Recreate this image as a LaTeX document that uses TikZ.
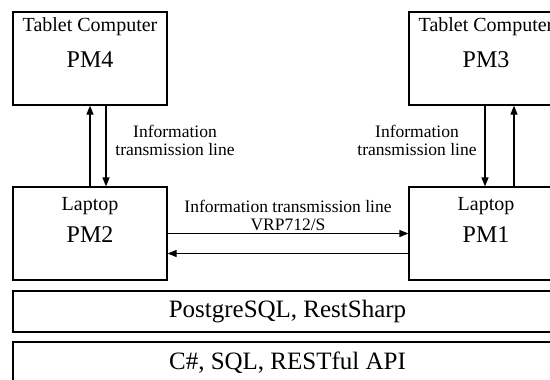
\documentclass[tikz,border=0pt]{standalone}
\usepackage{fontspec}
\setmainfont{Liberation Serif}
\usetikzlibrary{positioning,arrows.meta}

\begin{document}
\begin{tikzpicture}[x=1pt, y=-1pt,
    devbox/.style={draw, line width=1.2pt, minimum width=154pt, minimum height=93pt},
    layerbox/.style={draw, line width=1.2pt, minimum width=549pt, minimum height=41pt, font=\fontsize{25}{30}\selectfont},
    kind/.style={anchor=base, font=\fontsize{20}{24}\selectfont},
    pmname/.style={anchor=base, font=\fontsize{24}{28}\selectfont},
    lbl/.style={align=center, font=\fontsize{17.5}{18}\selectfont},
    arr/.style={-{Triangle[length=9pt, width=7pt]}, line width=1.2pt}
]
\path[use as bounding box] (0,0) rectangle (550,380);
\clip (0,0) rectangle (550,380);
% Devices
\node[devbox] (pm4) at (90,58.5) {};
\node[devbox] (pm3) at (486,58.5) {};
\node[devbox] (pm2) at (90,233.5) {};
\node[devbox] (pm1) at (486,233.5) {};
\node[kind] (pm4k) at ([yshift=-20pt]pm4.north) {Tablet Computer};
\node[pmname] (pm4n) at ([yshift=-56pt]pm4.north) {PM4};
\node[kind] (pm3k) at ([yshift=-20pt]pm3.north) {Tablet Computer};
\node[pmname] (pm3n) at ([yshift=-56pt]pm3.north) {PM3};
\node[kind] (pm2k) at ([yshift=-24pt]pm2.north) {Laptop};
\node[pmname] (pm2n) at ([yshift=-56pt]pm2.north) {PM2};
\node[kind] (pm1k) at ([yshift=-24pt]pm1.north) {Laptop};
\node[pmname] (pm1n) at ([yshift=-56pt]pm1.north) {PM1};
% Layers
\node[layerbox] (db) at (287.5,311.5) {PostgreSQL, RestSharp};
\node[layerbox] (lang) at (287.5,362.5) {C\#, SQL, RESTful API};
% Labels
\node[lbl] (lblL) at (175,140) {Information\\transmission line};
\node[lbl] (lblR) at (417,140) {Information\\transmission line};
\node[lbl] (lblM) at (288,215) {Information transmission line\\VRP712/S};
% Arrows
\draw[arr] (pm2.north) -- (pm4.south);
\draw[arr] ([xshift=16pt]pm4.south) -- ([xshift=16pt]pm2.north);
\draw[arr] ([xshift=-1pt]pm3.south) -- ([xshift=-1pt]pm1.north);
\draw[arr] ([xshift=28pt]pm1.north) -- ([xshift=28pt]pm3.south);
\draw[arr] (pm2.east) -- (pm1.west);
\draw[arr] ([yshift=-20pt]pm1.west) -- ([yshift=-20pt]pm2.east);
\end{tikzpicture}
\end{document}
